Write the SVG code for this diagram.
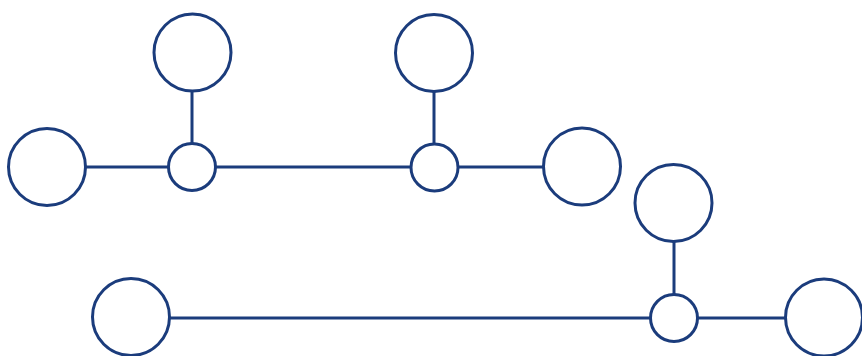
<svg xmlns="http://www.w3.org/2000/svg" width="862" height="356" viewBox="0 0 862 356">
<style>
.n{fill:#fff;stroke:#1b3c7c;stroke-width:3}
.c line{stroke:#1b3c7c;stroke-width:3}
</style>
<rect width="862" height="356" fill="#fff"/>
<g class="c">
<line x1="85" y1="167" x2="168" y2="167"/>
<line x1="192" y1="91" x2="192" y2="144"/>
<line x1="215" y1="167" x2="411" y2="167"/>
<line x1="434" y1="91" x2="434" y2="144"/>
<line x1="457" y1="167" x2="544" y2="167"/>
<line x1="674" y1="241" x2="674" y2="294"/>
<line x1="169" y1="318" x2="651" y2="318"/>
<line x1="697" y1="318" x2="786" y2="318"/>
</g>
<g id="n1"><circle class="n" cx="47" cy="167" r="38.5"/></g>
<g id="n2"><circle class="n" cx="192" cy="167" r="23.5"/></g>
<g id="n3"><circle class="n" cx="192.5" cy="52.5" r="38.5"/></g>
<g id="n4"><circle class="n" cx="434.5" cy="167.5" r="23.5"/></g>
<g id="n5"><circle class="n" cx="434" cy="53" r="38.5"/></g>
<g id="n6"><circle class="n" cx="582" cy="166.5" r="38.5"/></g>
<g id="n7"><circle class="n" cx="673.5" cy="203" r="38.5"/></g>
<g id="n8"><circle class="n" cx="674" cy="318" r="23.5"/></g>
<g id="n9"><circle class="n" cx="131" cy="317" r="38.5"/></g>
<g id="n10"><circle class="n" cx="824" cy="317.5" r="38.5"/></g>
</svg>
